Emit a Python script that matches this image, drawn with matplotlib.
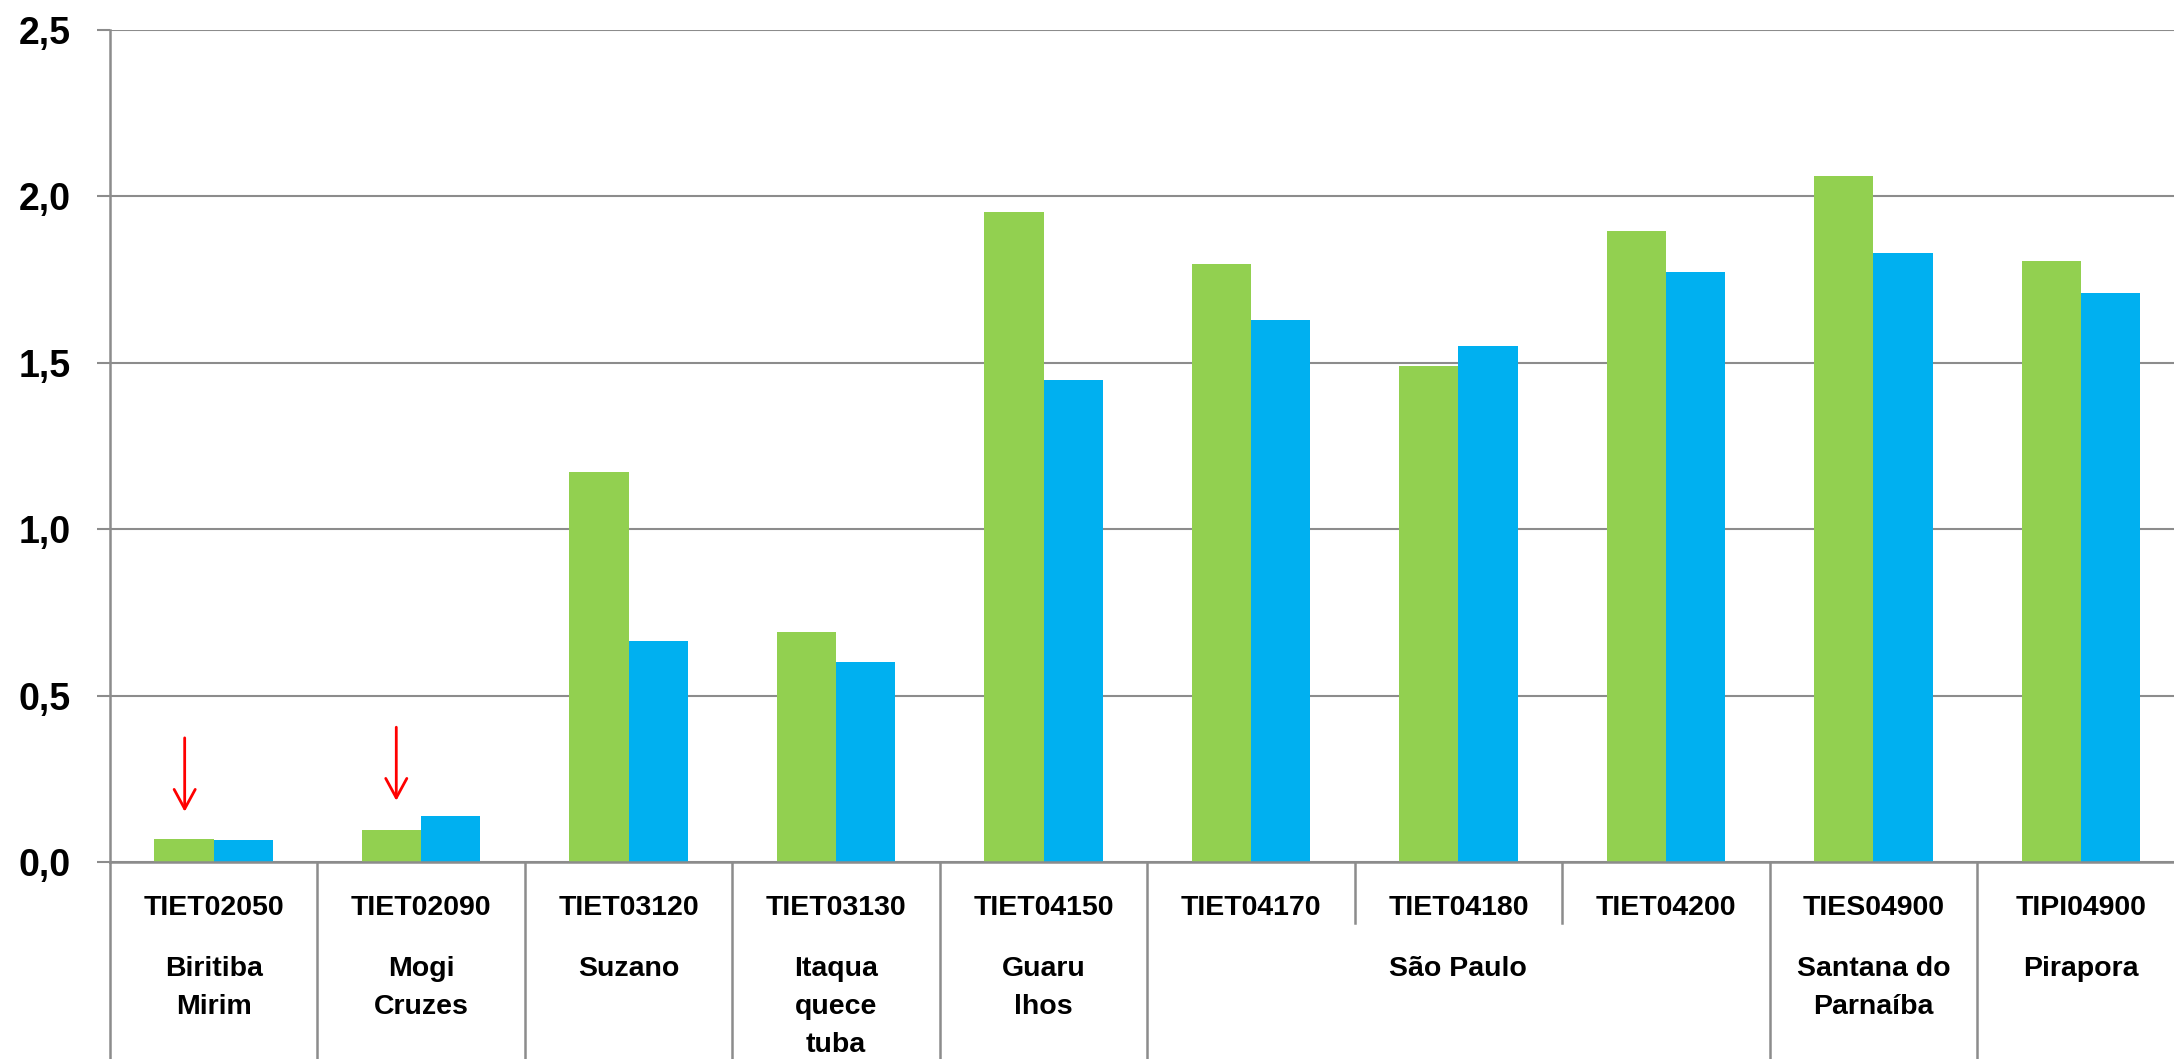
import matplotlib

matplotlib.use("Agg")

import matplotlib.pyplot as plt
import numpy as np

plt.rcParams["font.family"] = ["Liberation Sans", "DejaVu Sans"]
plt.rcParams["font.weight"] = "bold"

# Monitoring stations along the Tietê river and the municipality of each
stations = [
    "TIET02050", "TIET02090", "TIET03120", "TIET03130", "TIET04150",
    "TIET04170", "TIET04180", "TIET04200", "TIES04900", "TIPI04900",
]
# (label lines, first station index, last station index)
cities = [
    (["Biritiba", "Mirim"], 0, 0),
    (["Mogi", "Cruzes"], 1, 1),
    (["Suzano"], 2, 2),
    (["Itaqua", "quece", "tuba"], 3, 3),
    (["Guaru", "lhos"], 4, 4),
    (["São Paulo"], 5, 7),
    (["Santana do", "Parnaíba"], 8, 8),
    (["Pirapora"], 9, 9),
]

green_values = [0.070, 0.096, 1.173, 0.690, 1.952, 1.797, 1.490, 1.896, 2.060, 1.806]
blue_values = [0.065, 0.138, 0.664, 0.601, 1.448, 1.628, 1.550, 1.774, 1.830, 1.710]

# red markers pointing at the two smallest stations
arrow_x = [-0.14, 0.88]
arrow_tail = [0.373, 0.405]
arrow_tip = [0.151, 0.184]

yticks = [0.0, 0.5, 1.0, 1.5, 2.0, 2.5]

GREEN = "#92D050"
BLUE = "#00B0F0"
GRID = "#8c8c8c"

W, H = 2174, 1059
ax_left, ax_top, ax_bottom, cat_w = 110, 30, 862, 207.45
ax_h = ax_bottom - ax_top

fig = plt.figure(figsize=(W / 100, H / 100), dpi=100)
ax = fig.add_axes([ax_left / W, (H - ax_bottom) / H, cat_w * 10 / W, ax_h / H])

x = np.arange(len(stations))
bar_w = 1 / 3.5
ax.bar(x - bar_w / 2, green_values, bar_w, color=GREEN, zorder=3)
ax.bar(x + bar_w / 2, blue_values, bar_w, color=BLUE, zorder=3)

ax.set_xlim(-0.5, len(stations) - 0.5)
ax.set_ylim(0, 2.5)
ax.set_yticks(yticks)
ax.set_yticklabels([f"{v:.1f}".replace(".", ",") for v in yticks])
ax.tick_params(axis="y", length=9.5, width=1.5, color=GRID, pad=19, labelsize=27)
ax.tick_params(axis="x", bottom=False, labelbottom=False)
ax.yaxis.grid(True, color=GRID, linewidth=1.5, zorder=0)
ax.set_axisbelow(True)
for side in ["top", "right"]:
    ax.spines[side].set_visible(False)
for side in ["left", "bottom"]:
    ax.spines[side].set_color(GRID)
    ax.spines[side].set_linewidth(1.8)
ax.spines["bottom"].set_zorder(4)


def below(px):
    # pixel distance under the zero line -> axes fraction
    return -px / ax_h


trans = ax.get_xaxis_transform()

# category separators under the axis
group_edges = [-0.5] + [c[2] + 0.5 for c in cities]
for edge in group_edges:
    ax.plot([edge, edge], [0, below(220)], transform=trans, color=GRID,
            linewidth=1.8, clip_on=False, zorder=1)
for first_idx, last_idx in [(c[1], c[2]) for c in cities if c[2] > c[1]]:
    for edge in np.arange(first_idx, last_idx) + 0.5:
        ax.plot([edge, edge], [0, below(61)], transform=trans, color=GRID,
                linewidth=1.8, clip_on=False, zorder=1)

for i, code in enumerate(stations):
    ax.text(i, below(53), code, transform=trans, ha="center", va="baseline",
            fontsize=20.5, fontweight="bold")

line_gap = 38
for lines, first_idx, last_idx in cities:
    center = (first_idx + last_idx) / 2
    for k, line in enumerate(lines):
        ax.text(center, below(114 + k * line_gap), line, transform=trans,
                ha="center", va="baseline", fontsize=20.5, fontweight="bold")

for ax_x, tail, tip in zip(arrow_x, arrow_tail, arrow_tip):
    ax.annotate(
        "", xy=(ax_x, tip), xytext=(ax_x, tail),
        arrowprops=dict(arrowstyle="->,head_length=0.7,head_width=0.38",
                        color="#FF0000", linewidth=2, mutation_scale=20,
                        shrinkA=0, shrinkB=0),
        zorder=5,
    )

fig.savefig("out.png", dpi=100)
